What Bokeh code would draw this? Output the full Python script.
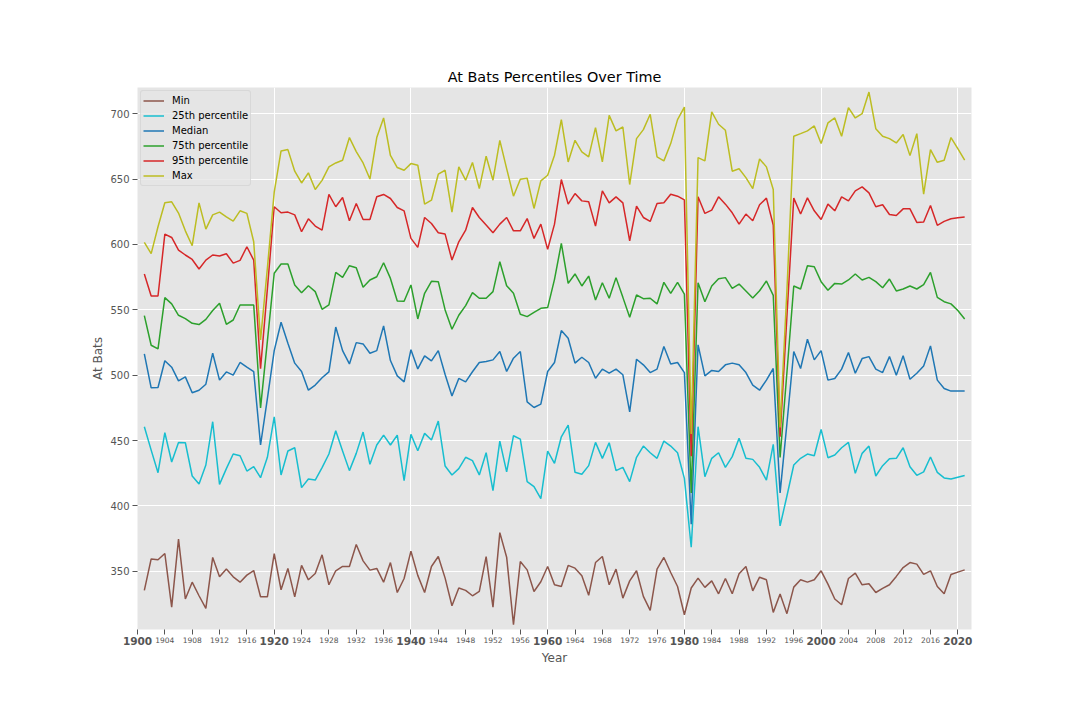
from bokeh.plotting import figure
from bokeh.models import Range1d, FixedTicker, Legend, LegendItem, LinearAxis
from bokeh.embed import file_html
from bokeh.resources import INLINE

years = list(range(1901, 2022))

min_ab = [
    335.4, 359.5, 358.8, 363.6, 322.6, 374.6, 328.8, 341.7, 331.3, 321.6,
    360.6, 345.8, 351.7, 345.8, 341.7, 347.1, 350.6, 330.5, 330.5, 363.6,
    335.9, 352.2, 330.5, 354.5, 343.5, 348.3, 362.6, 339.7, 350.4, 353.7,
    353.7, 370.5, 358.0, 350.9, 352.2, 341.7, 356.7, 333.8, 344.5, 365.4,
    346.9, 333.8, 353.7, 361.3, 344.8, 323.7, 337.2, 335.4, 331.3, 334.6,
    361.3, 322.6, 379.6, 360.8, 309.2, 357.5, 351.1, 334.6, 342.0, 353.7,
    339.7, 338.4, 354.5, 352.4, 346.6, 331.6, 356.7, 361.3, 339.7, 351.7,
    329.5, 342.7, 350.4, 330.8, 320.1, 351.7, 360.6, 349.1, 338.4, 316.8,
    337.2, 344.8, 337.7, 342.7, 332.8, 344.5, 332.8, 348.1, 353.7, 335.1,
    345.5, 343.5, 318.6, 332.6, 317.6, 337.9, 343.5, 341.7, 343.5, 350.4,
    340.2, 328.8, 324.4, 344.5, 348.6, 339.7, 340.5, 333.8, 336.9, 339.7,
    346.1, 352.9, 356.7, 355.5, 347.6, 350.4, 338.4, 332.8, 347.6, 349.4,
    351.1]

p25 = [
    460.6, 442.7, 425.4, 456.0, 433.6, 448.6, 448.3, 422.9, 416.8, 431.3,
    464.4, 416.5, 428.5, 439.7, 438.4, 426.7, 430.0, 421.6, 437.2, 468.2,
    423.7, 442.0, 444.5, 414.0, 420.6, 419.8, 429.3, 439.7, 457.5, 442.0,
    427.0, 440.2, 456.5, 431.8, 446.6, 454.2, 446.6, 454.2, 419.3, 454.7,
    442.2, 455.5, 450.4, 464.9, 430.5, 423.7, 428.5, 437.2, 434.6, 423.7,
    440.7, 411.7, 449.6, 426.0, 453.7, 451.1, 418.6, 414.8, 405.6, 442.0,
    432.6, 452.9, 461.8, 425.7, 424.2, 430.8, 448.6, 436.4, 448.3, 427.0,
    429.5, 418.6, 437.2, 445.8, 440.7, 436.4, 449.6, 445.8, 440.7, 421.1,
    368.4, 460.6, 422.4, 436.4, 440.7, 429.5, 437.7, 451.7, 436.4, 435.6,
    429.5, 419.8, 447.1, 384.7, 407.6, 431.3, 436.4, 439.7, 438.4, 458.5,
    436.9, 438.9, 444.5, 448.6, 424.9, 440.2, 445.8, 422.9, 430.8, 436.1,
    436.4, 444.5, 430.0, 423.4, 426.0, 437.4, 425.7, 421.4, 420.6, 421.9,
    423.2]

median = [
    516.3, 490.3, 490.6, 511.0, 506.1, 495.7, 498.7, 486.5, 488.5, 493.1,
    516.8, 496.2, 502.5, 500.0, 509.7, 506.1, 502.8, 446.6, 482.0, 518.8,
    540.5, 524.4, 509.2, 502.8, 488.5, 492.4, 498.0, 502.5, 536.8, 518.8,
    508.6, 524.9, 523.9, 516.8, 518.8, 537.7, 511.2, 499.5, 494.9, 519.5,
    504.8, 514.8, 510.9, 518.8, 500.5, 484.0, 497.5, 494.9, 502.6, 509.7,
    510.4, 511.7, 518.1, 502.8, 513.0, 518.1, 479.6, 475.3, 477.9, 502.8,
    509.7, 534.1, 528.2, 509.2, 513.7, 509.7, 497.7, 504.6, 501.5, 504.6,
    500.3, 472.0, 512.2, 507.9, 502.0, 504.6, 521.9, 508.6, 509.7, 502.0,
    386.0, 523.2, 499.5, 503.6, 502.8, 507.9, 509.2, 507.9, 502.0, 492.4,
    488.5, 496.2, 505.1, 410.0, 463.0, 518.1, 505.1, 527.5, 511.7, 518.8,
    496.2, 497.5, 504.6, 517.3, 501.5, 512.7, 514.2, 504.6, 502.0, 514.2,
    500.0, 514.8, 496.9, 501.5, 507.1, 522.4, 496.2, 489.8, 487.8, 487.8,
    487.8]

p75 = [
    545.5, 522.9, 520.1, 559.3, 554.5, 545.8, 543.3, 539.7, 538.7, 542.7,
    549.4, 555.0, 538.9, 542.2, 553.7, 553.7, 553.7, 475.0, 526.0, 577.9,
    585.0, 585.0, 569.0, 563.1, 568.4, 563.9, 550.4, 553.7, 578.6, 574.8,
    583.7, 582.2, 567.2, 572.8, 575.3, 586.0, 574.0, 556.7, 556.5, 569.0,
    543.0, 562.6, 571.8, 571.5, 549.9, 535.1, 545.8, 553.2, 563.1, 558.8,
    558.8, 563.9, 586.8, 568.4, 562.6, 546.6, 544.8, 548.1, 551.1, 551.7,
    573.3, 600.8, 570.2, 577.4, 568.2, 575.8, 557.5, 570.7, 558.8, 574.6,
    559.5, 544.3, 561.3, 558.5, 558.8, 554.5, 571.0, 562.6, 571.0, 562.0,
    410.0, 570.7, 556.2, 568.2, 573.8, 574.6, 566.4, 569.7, 564.4, 559.0,
    564.6, 572.0, 561.0, 437.0, 502.0, 568.2, 565.9, 583.7, 582.9, 571.5,
    564.9, 570.2, 569.7, 572.8, 577.4, 572.8, 574.8, 571.5, 566.9, 573.5,
    564.4, 565.9, 568.2, 565.9, 569.2, 578.6, 559.5, 556.2, 554.5, 549.4,
    543.0]

p95 = [
    577.4, 560.6, 560.6, 607.9, 605.3, 595.7, 591.9, 588.5, 581.2, 588.0,
    591.9, 591.1, 592.9, 585.7, 587.8, 598.2, 588.0, 505.0, 566.0, 628.8,
    624.2, 624.7, 622.6, 609.7, 619.6, 614.0, 610.9, 638.2, 628.8, 635.9,
    618.1, 631.3, 619.1, 619.1, 636.4, 638.2, 635.1, 628.2, 625.7, 604.6,
    597.7, 620.6, 616.0, 608.9, 607.9, 588.0, 602.0, 610.9, 628.2, 620.6,
    614.8, 608.9, 615.5, 620.6, 610.4, 610.4, 619.8, 604.6, 615.5, 596.2,
    615.5, 649.6, 630.8, 638.9, 633.3, 632.6, 614.0, 641.0, 631.8, 636.4,
    631.8, 602.8, 629.3, 620.6, 617.6, 631.3, 631.8, 638.4, 636.9, 634.0,
    438.0, 636.4, 623.7, 626.2, 636.4, 630.8, 624.2, 615.5, 623.2, 618.1,
    630.3, 635.4, 614.8, 453.0, 545.0, 635.4, 623.2, 635.6, 625.7, 619.1,
    630.8, 625.7, 636.4, 633.3, 641.0, 644.0, 639.4, 628.8, 630.3, 622.9,
    622.1, 627.2, 627.2, 616.8, 617.1, 629.8, 614.6, 617.6, 619.6, 620.4,
    620.9]

max_ab = [
    601.5, 593.0, 613.5, 631.8, 632.6, 624.0, 610.4, 599.0, 631.8, 611.7,
    622.6, 624.7, 621.0, 617.8, 625.7, 623.7, 602.0, 527.0, 582.0, 640.0,
    671.5, 672.5, 656.0, 647.0, 654.7, 642.0, 649.0, 659.3, 662.3, 664.4,
    681.7, 671.0, 662.3, 650.0, 681.7, 696.7, 668.0, 658.8, 656.7, 661.8,
    660.6, 630.8, 633.8, 653.7, 656.7, 624.7, 659.3, 649.1, 662.6, 642.7,
    667.4, 649.1, 679.6, 658.0, 636.9, 649.9, 650.6, 627.5, 648.6, 652.9,
    668.2, 695.4, 663.1, 679.6, 670.7, 666.9, 689.3, 663.1, 698.7, 686.8,
    689.8, 645.8, 680.9, 687.8, 699.5, 666.9, 663.9, 677.1, 695.4, 705.0,
    455.0, 666.4, 663.9, 701.3, 691.9, 687.3, 656.0, 657.8, 651.1, 642.7,
    665.4, 659.3, 642.0, 460.0, 565.0, 682.7, 684.7, 686.8, 690.6, 677.1,
    692.9, 696.7, 682.7, 704.6, 696.7, 700.0, 716.5, 688.5, 682.7, 680.9,
    677.6, 684.0, 667.9, 684.7, 638.4, 672.5, 662.8, 664.4, 681.7, 673.3,
    664.4]

series_names = ["Min", "25th percentile", "Median", "75th percentile", "95th percentile", "Max"]
series_values = [min_ab, p25, median, p75, p95, max_ab]
series_colors = ["#8c564b", "#17becf", "#1f77b4", "#2ca02c", "#d62728", "#bcbd22"]

x_ticks = list(range(1900, 2021, 4))
major_years = list(range(1900, 2021, 20))
minor_years = [y for y in x_ticks if y not in major_years]
y_ticks = list(range(350, 701, 50))

FONT = "DejaVu Sans"
GREY = "#555555"

p = figure(width=1064, height=704, output_backend="svg", toolbar_location=None,
           x_range=Range1d(1900, 2022), y_range=Range1d(305.5, 720),
           min_border_left=137, min_border_right=93, min_border_top=87,
           min_border_bottom=75, background_fill_color="#E5E5E5",
           border_fill_color="white", outline_line_color=None,
           title="At Bats Percentiles Over Time", x_axis_location=None)

p.title.align = "center"
p.title.text_font = FONT
p.title.text_font_size = "14.4px"
p.title.text_font_style = "normal"
p.title.text_color = "black"
p.title.standoff = 6

items = []
for name, vals, col in zip(series_names, series_values, series_colors):
    r = p.line(years, vals, line_color=col, line_width=1.5)
    items.append(LegendItem(label=name, renderers=[r]))

p.xgrid.ticker = FixedTicker(ticks=major_years)
p.ygrid.ticker = FixedTicker(ticks=y_ticks)
for g in (p.xgrid, p.ygrid):
    g.grid_line_color = "white"
    g.grid_line_width = 1

# axis nearest the frame: all tick marks, bold labels at the 20-year marks
xa_major = LinearAxis(ticker=FixedTicker(ticks=x_ticks))
xa_major.major_label_overrides = {y: "" for y in minor_years}
xa_major.major_label_text_font_size = "10.5px"
xa_major.major_label_text_font_style = "bold"
xa_major.major_label_standoff = 2
# second axis: the small labels every four years, pulled up into the same row
xa_minor = LinearAxis(ticker=FixedTicker(ticks=minor_years))
xa_minor.major_tick_line_color = None
xa_minor.major_label_text_font_size = "7.5px"
xa_minor.major_label_standoff = -11
xa_minor.axis_label = "Year"
xa_minor.axis_label_standoff = 5
p.add_layout(xa_major, "below")
p.add_layout(xa_minor, "below")

p.yaxis.ticker = FixedTicker(ticks=y_ticks)
p.yaxis.major_label_text_font_size = "10px"
p.yaxis.major_label_standoff = 3
p.yaxis.axis_label = "At Bats"
p.yaxis.axis_label_standoff = 2

for ax in (xa_major, xa_minor, p.yaxis[0]):
    ax.axis_line_color = None
    ax.minor_tick_line_color = None
    ax.major_tick_in = 0
    ax.major_tick_out = 5
    ax.major_label_text_color = GREY
    ax.major_label_text_font = FONT
    ax.axis_label_text_font = FONT
    ax.axis_label_text_color = GREY
    ax.axis_label_text_font_size = "12px"
    ax.axis_label_text_font_style = "normal"
xa_major.major_tick_line_color = GREY
p.yaxis.major_tick_line_color = GREY
xa_minor.major_tick_out = 0

legend = Legend(items=items, location="top_left")
legend.margin = 3
legend.padding = 2
legend.spacing = 0
legend.glyph_width = 21
legend.glyph_height = 15
legend.label_height = 15
legend.label_standoff = 8
legend.label_text_font = FONT
legend.label_text_font_size = "10px"
legend.label_text_color = "black"
legend.background_fill_color = "#E5E5E5"
legend.background_fill_alpha = 0.8
legend.border_line_color = "#CCCCCC"
legend.border_line_width = 1
if "border_radius" in Legend.properties():
    legend.border_radius = 3
p.add_layout(legend)

open("out.html", "w").write(file_html(p, INLINE))
